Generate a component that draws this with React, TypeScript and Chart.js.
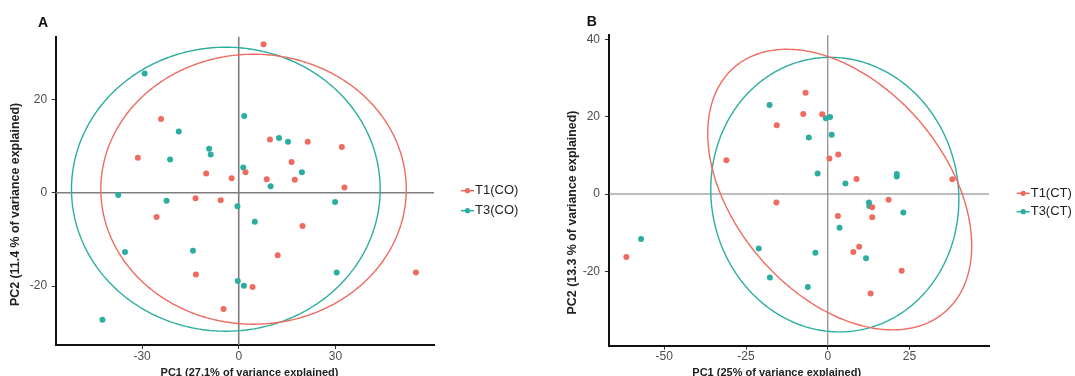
import React, { useEffect, useRef } from 'react';
import { Chart, registerables } from 'chart.js';

Chart.register(...registerables);

const RED = '#EE6B60';
const TEAL = '#2BAE9F';
const FONT = "'Liberation Sans', Arial, sans-serif";

// ---------- Panel A data ----------
const aT1X = [7.7, -24.1, -31.3, 9.7, 21.4, 32.0, 16.4, -10.1, -2.2, 2.1, 8.7, 17.4, 32.8, -13.4, -5.6, -25.5, 19.8, 12.1, -13.3, 4.3, -4.7, 55.0];
const aT1Y = [31.8, 15.8, 7.5, 11.4, 10.9, 9.8, 6.6, 4.1, 3.1, 4.4, 2.9, 2.8, 1.1, -1.2, -1.6, -5.2, -7.1, -13.4, -17.5, -20.2, -24.9, -17.1];
const aT3X = [-29.2, 1.7, -18.6, 12.5, 15.3, -9.2, -8.7, -21.3, 1.4, 19.6, 9.9, -37.4, -22.4, 29.9, -0.4, 5.0, -35.3, -14.2, 30.4, -0.3, 1.6, -42.3];
const aT3Y = [25.5, 16.4, 13.1, 11.7, 10.9, 9.4, 8.2, 7.1, 5.4, 4.4, 1.4, -0.5, -1.7, -2.0, -2.9, -6.2, -12.7, -12.4, -17.1, -18.9, -19.9, -27.2];
const aXTicks = [-30, 0, 30];
const aYTicks = [-20, 0, 20];
const aLegend = ['T1(CO)', 'T3(CO)'];
// ellipse: centre x, centre y, radius x, radius y, rotation (deg)
const aEllT1 = [4.6, 0.75, 47.4, 28.9, 0];
const aEllT3 = [-4.0, 0.75, 47.9, 30.4, 0];

// ---------- Panel B data ----------
const bT1X = [-6.8, -7.5, -1.7, -15.6, 3.2, 0.5, -31.0, 8.8, 38.1, 18.6, -15.7, 13.6, 3.1, 13.6, 9.6, 7.8, 22.6, 13.1, -61.6];
const bT1Y = [26.2, 20.7, 20.6, 17.8, 10.2, 9.2, 8.7, 3.9, 3.8, -1.5, -2.2, -3.4, -5.7, -6.0, -13.6, -15.0, -19.8, -25.7, -16.3];
const bT3X = [-17.8, -0.6, 0.7, -5.8, 1.2, -3.1, 5.4, 21.1, 21.1, 12.6, 12.7, 23.1, 3.6, -21.1, -3.8, 11.7, -17.7, -6.1, -57.1];
const bT3Y = [23.0, 19.6, 19.9, 14.6, 15.3, 5.3, 2.7, 5.2, 4.5, -2.2, -3.1, -4.8, -8.7, -14.1, -15.2, -16.6, -21.6, -24.0, -11.6];
const bXTicks = [-50, -25, 0, 25];
const bYTicks = [-20, 0, 20, 40];
const bLegend = ['T1(CT)', 'T3(CT)'];
const bEllT1 = [3.65, 1.15, 45.6, 29.4, -37.5];
const bEllT3 = [2.15, -0.15, 38.1, 35.3, -14.5];

function pts(xs: number[], ys: number[]) {
  return xs.map((x, i) => ({ x, y: ys[i] }));
}

function ellipse(p: number[]) {
  const [cx, cy, rx, ry, deg] = p;
  const th = (deg * Math.PI) / 180;
  const out: { x: number; y: number }[] = [];
  for (let i = 0; i <= 240; i++) {
    const t = (i / 240) * Math.PI * 2;
    out.push({
      x: cx + rx * Math.cos(t) * Math.cos(th) - ry * Math.sin(t) * Math.sin(th),
      y: cy + rx * Math.cos(t) * Math.sin(th) + ry * Math.sin(t) * Math.cos(th),
    });
  }
  return out;
}

type PanelCfg = {
  left: number;
  width: number;
  height: number;
  letter: string;
  letterX: number;
  letterY: number;
  t1x: number[]; t1y: number[]; t3x: number[]; t3y: number[];
  e1: number[]; e3: number[];
  xTicks: number[]; yTicks: number[];
  xMin: number; xMax: number; yMin: number; yMax: number;
  legend: string[];
  legendDx: number; legendY0: number; legendGap: number;
  padTop: number; padRight: number;
  yAxisW: number; xAxisH: number;
  yTitle: string; xTitle: string;
  yTitleX: number; yTitleY: number;
  xTitleX: number; xTitleY: number;
  yTickPad: number;
  refWidth: number;
};

const panelA: PanelCfg = {
  left: 0, width: 540, height: 380,
  letter: 'A', letterX: 38, letterY: 23,
  t1x: aT1X, t1y: aT1Y, t3x: aT3X, t3y: aT3Y,
  e1: aEllT1, e3: aEllT3,
  xTicks: aXTicks, yTicks: aYTicks,
  xMin: -56.8, xMax: 60.6, yMin: -32.6, yMax: 33.4,
  legend: aLegend, legendDx: 27, legendY0: 190.7, legendGap: 20,
  padTop: 36.7, padRight: 106,
  yAxisW: 55.7, xAxisH: 35,
  yTitle: 'PC2 (11.4 % of variance explained)',
  xTitle: 'PC1 (27.1% of variance explained)',
  yTitleX: 16, yTitleY: 204.5,
  xTitleX: 249.5, xTitleY: 372.5,
  yTickPad: 4.5, refWidth: 1.6,
};

const panelB: PanelCfg = {
  left: 540, width: 535, height: 380,
  letter: 'B', letterX: 46.7, letterY: 22,
  t1x: bT1X, t1y: bT1Y, t3x: bT3X, t3y: bT3Y,
  e1: bEllT1, e3: bEllT3,
  xTicks: bXTicks, yTicks: bYTicks,
  xMin: -66.9, xMax: 49.3, yMin: -39.2, yMax: 41.1,
  legend: bLegend, legendDx: 27.7, legendY0: 193.3, legendGap: 18.4,
  padTop: 35, padRight: 86,
  yAxisW: 69, xAxisH: 34.3,
  yTitle: 'PC2 (13.3 % of variance explained)',
  xTitle: 'PC1 (25% of variance explained)',
  yTitleX: 33, yTitleY: 212.5,
  xTitleX: 236.7, xTitleY: 372.5,
  yTickPad: 5, refWidth: 1.1,
};

function Panel({ cfg }: { cfg: PanelCfg }) {
  const ref = useRef<HTMLCanvasElement>(null);
  useEffect(() => {
    const colors = [RED, TEAL];
    const decor = {
      id: 'decor',
      beforeDatasetsDraw(chart: any) {
        const { ctx, chartArea, scales } = chart;
        const x0 = scales.x.getPixelForValue(0);
        const y0 = scales.y.getPixelForValue(0);
        ctx.save();
        ctx.strokeStyle = '#7d7d7d';
        ctx.lineWidth = cfg.refWidth;
        ctx.beginPath();
        ctx.moveTo(x0, chartArea.top);
        ctx.lineTo(x0, chartArea.bottom);
        ctx.moveTo(chartArea.left, y0);
        ctx.lineTo(chartArea.right, y0);
        ctx.stroke();
        ctx.restore();
      },
      afterDraw(chart: any) {
        const { ctx, chartArea } = chart;
        ctx.save();
        ctx.fillStyle = '#111';
        ctx.font = `bold 14px ${FONT}`;
        ctx.textBaseline = 'middle';
        ctx.textAlign = 'left';
        ctx.fillText(cfg.letter, cfg.letterX, cfg.letterY);

        // axis titles
        ctx.fillStyle = '#222';
        ctx.textAlign = 'center';
        ctx.font = `bold 11px ${FONT}`;
        ctx.fillText(cfg.xTitle, cfg.xTitleX, cfg.xTitleY);
        ctx.save();
        ctx.translate(cfg.yTitleX, cfg.yTitleY);
        ctx.rotate(-Math.PI / 2);
        ctx.font = `bold 12.4px ${FONT}`;
        ctx.fillText(cfg.yTitle, 0, 0);
        ctx.restore();

        ctx.textAlign = 'left';
        cfg.legend.forEach((label, i) => {
          const y = cfg.legendY0 + i * cfg.legendGap;
          const x = chartArea.right + cfg.legendDx;
          ctx.strokeStyle = colors[i];
          ctx.fillStyle = colors[i];
          ctx.lineWidth = 1.5;
          ctx.beginPath();
          ctx.moveTo(x, y);
          ctx.lineTo(x + 13, y);
          ctx.stroke();
          ctx.beginPath();
          ctx.arc(x + 6.5, y, 2.6, 0, Math.PI * 2);
          ctx.fill();
          ctx.fillStyle = '#222';
          ctx.font = `13px ${FONT}`;
          ctx.fillText(label, x + 14, y);
        });
        ctx.restore();
      },
    };

    const tickFont = { family: FONT, size: 12 };
    const chart = new Chart(ref.current as HTMLCanvasElement, {
      type: 'scatter',
      data: {
        datasets: [
          { label: cfg.legend[0], data: pts(cfg.t1x, cfg.t1y), backgroundColor: RED, borderColor: RED, pointRadius: 3, pointBorderWidth: 0 },
          { label: cfg.legend[1], data: pts(cfg.t3x, cfg.t3y), backgroundColor: TEAL, borderColor: TEAL, pointRadius: 3, pointBorderWidth: 0 },
          { label: 'e1', data: ellipse(cfg.e1), showLine: true, borderColor: RED, borderWidth: 1.4, pointRadius: 0, fill: false, tension: 0.01 },
          { label: 'e3', data: ellipse(cfg.e3), showLine: true, borderColor: TEAL, borderWidth: 1.4, pointRadius: 0, fill: false, tension: 0.01 },
        ] as any,
      },
      options: {
        animation: false,
        responsive: false,
        events: [],
        layout: { padding: { left: 0, top: cfg.padTop, right: cfg.padRight, bottom: 0 } },
        plugins: { legend: { display: false }, tooltip: { enabled: false } },
        scales: {
          x: {
            type: 'linear',
            position: 'bottom',
            min: cfg.xMin,
            max: cfg.xMax,
            afterBuildTicks: (s: any) => { s.ticks = cfg.xTicks.map((v) => ({ value: v })); },
            afterFit: (s: any) => { s.height = cfg.xAxisH; },
            border: { display: true, color: '#111', width: 2 },
            grid: { display: true, drawOnChartArea: false, drawTicks: true, tickLength: 4, color: '#333' },
            ticks: { color: '#4d4d4d', font: tickFont, padding: 0, maxRotation: 0 },
            title: { display: false },
          },
          y: {
            type: 'linear',
            position: 'left',
            min: cfg.yMin,
            max: cfg.yMax,
            afterBuildTicks: (s: any) => { s.ticks = cfg.yTicks.map((v) => ({ value: v })); },
            afterFit: (s: any) => { s.width = cfg.yAxisW; },
            border: { display: true, color: '#111', width: 2 },
            grid: { display: true, drawOnChartArea: false, drawTicks: true, tickLength: 4, color: '#333' },
            ticks: { color: '#4d4d4d', font: tickFont, padding: cfg.yTickPad },
            title: { display: false },
          },
        },
      } as any,
      plugins: [decor],
    });
    return () => chart.destroy();
  }, [cfg]);

  return (
    <div style={{ position: 'absolute', left: cfg.left, top: 0, width: cfg.width, height: cfg.height }}>
      <canvas ref={ref} width={cfg.width} height={cfg.height} style={{ display: 'block' }} />
    </div>
  );
}

export default function App() {
  return (
    <div style={{ position: 'fixed', left: 0, top: 0, width: 1075, height: 376, overflow: 'hidden', background: '#fff' }}>
      <Panel cfg={panelA} />
      <Panel cfg={panelB} />
    </div>
  );
}
